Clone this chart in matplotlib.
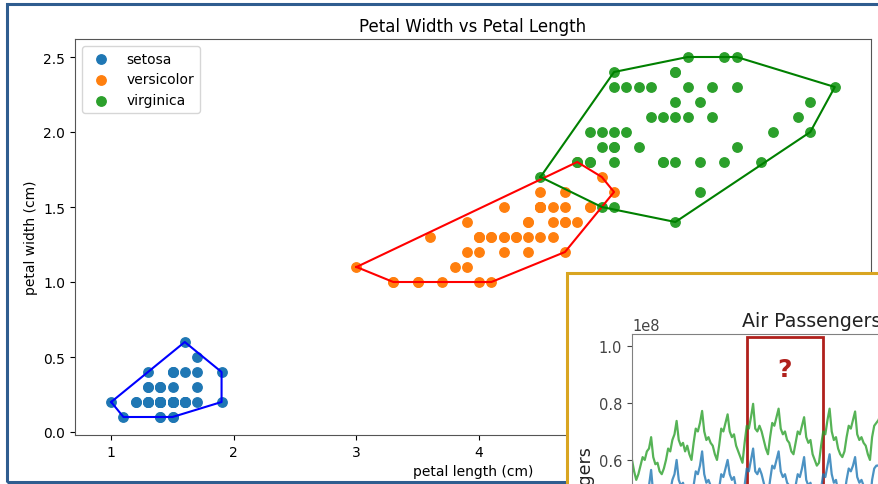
import numpy as np
import matplotlib
matplotlib.use("Agg")
import matplotlib.pyplot as plt
from matplotlib.patches import Rectangle

# ---------------- Iris petal data ----------------
species = ["setosa", "versicolor", "virginica"]
setosa_len = [1.4,1.4,1.3,1.5,1.4,1.7,1.4,1.5,1.4,1.5,1.5,1.6,1.4,1.1,1.2,1.5,1.3,1.4,1.7,1.5,
              1.7,1.5,1.0,1.7,1.9,1.6,1.6,1.5,1.4,1.6,1.6,1.5,1.5,1.4,1.5,1.2,1.3,1.4,1.3,1.5,
              1.3,1.3,1.3,1.6,1.9,1.4,1.6,1.4,1.5,1.4]
setosa_wid = [0.2,0.2,0.2,0.2,0.2,0.4,0.3,0.2,0.2,0.1,0.2,0.2,0.1,0.1,0.2,0.4,0.4,0.3,0.3,0.3,
              0.2,0.4,0.2,0.5,0.2,0.2,0.4,0.2,0.2,0.2,0.2,0.4,0.1,0.2,0.2,0.2,0.2,0.1,0.2,0.2,
              0.3,0.3,0.2,0.6,0.4,0.3,0.2,0.2,0.2,0.2]
versi_len = [4.7,4.5,4.9,4.0,4.6,4.5,4.7,3.3,4.6,3.9,3.5,4.2,4.0,4.7,3.6,4.4,4.5,4.1,4.5,3.9,
             4.8,4.0,4.9,4.7,4.3,4.4,4.8,5.0,4.5,3.5,3.8,3.7,3.9,5.1,4.5,4.5,4.7,4.4,4.1,4.0,
             4.4,4.6,4.0,3.3,4.2,4.2,4.2,4.3,3.0,4.1]
versi_wid = [1.4,1.5,1.5,1.3,1.5,1.3,1.6,1.0,1.3,1.4,1.0,1.5,1.0,1.4,1.3,1.4,1.5,1.0,1.5,1.1,
             1.8,1.3,1.5,1.2,1.3,1.4,1.4,1.7,1.5,1.0,1.1,1.0,1.2,1.6,1.5,1.6,1.5,1.3,1.3,1.3,
             1.2,1.4,1.2,1.0,1.3,1.2,1.3,1.3,1.1,1.3]
virg_len = [6.0,5.1,5.9,5.6,5.8,6.6,4.5,6.3,5.8,6.1,5.1,5.3,5.5,5.0,5.1,5.3,5.5,6.7,6.9,5.0,
            5.7,4.9,6.7,4.9,5.7,6.0,4.8,4.9,5.6,5.8,6.1,6.4,5.6,5.1,5.6,6.1,5.6,5.5,4.8,5.4,
            5.6,5.1,5.1,5.9,5.7,5.2,5.0,5.2,5.4,5.1]
virg_wid = [2.5,1.9,2.1,1.8,2.2,2.1,1.7,1.8,1.8,2.5,2.0,1.9,2.1,2.0,2.4,2.3,1.8,2.2,2.3,1.5,
            2.3,2.0,2.0,1.8,2.1,1.8,1.8,1.8,2.1,1.6,1.9,2.0,2.2,1.5,1.4,2.3,2.4,1.8,1.8,2.1,
            2.4,2.3,1.9,2.3,2.5,2.3,1.9,2.0,2.3,1.8]
hull_colors = ["blue", "red", "green"]

# ---------------- Inset (Air Passengers) data, in units of 1e8 ----------------
months = list(range(0, 121))
green_vals = [0.60,0.56,0.53,0.55,0.58,0.61,0.60,0.63,0.64,0.68,
              0.61,0.585,0.59,0.56,0.55,0.57,0.60,0.64,0.63,0.67,0.69,0.737,
              0.67,0.65,0.66,0.63,0.65,0.62,0.60,0.66,0.71,0.70,0.73,0.772,
              0.70,0.67,0.68,0.66,0.65,0.62,0.60,0.65,0.71,0.70,0.73,0.76,
              0.70,0.68,0.69,0.65,0.63,0.61,0.59,0.66,0.72,0.71,0.75,0.797,
              0.71,0.70,0.72,0.70,0.67,0.64,0.62,0.68,0.73,0.72,0.75,0.78,
              0.71,0.69,0.70,0.67,0.66,0.63,0.62,0.66,0.70,0.69,0.72,0.75,
              0.68,0.66,0.67,0.62,0.60,0.58,0.59,0.65,0.70,0.69,0.74,0.78,
              0.70,0.67,0.68,0.64,0.62,0.61,0.63,0.68,0.72,0.71,0.74,0.77,
              0.69,0.67,0.68,0.66,0.65,0.62,0.60,0.68,0.72,0.73,0.74,0.76,0.70,0.68,0.69]
blue_vals = [0.47,0.43,0.40,0.42,0.45,0.48,0.47,0.50,0.51,0.565,
             0.48,0.45,0.46,0.42,0.41,0.43,0.46,0.50,0.49,0.53,0.55,0.60,
             0.53,0.51,0.52,0.49,0.50,0.47,0.45,0.51,0.56,0.55,0.58,0.63,
             0.55,0.52,0.53,0.51,0.50,0.47,0.45,0.50,0.55,0.54,0.57,0.60,
             0.55,0.53,0.54,0.50,0.48,0.46,0.44,0.51,0.57,0.56,0.60,0.64,
             0.56,0.55,0.57,0.55,0.52,0.49,0.47,0.53,0.58,0.57,0.60,0.63,
             0.56,0.54,0.55,0.52,0.51,0.48,0.47,0.51,0.55,0.54,0.57,0.61,
             0.53,0.51,0.52,0.47,0.45,0.43,0.44,0.50,0.55,0.54,0.58,0.62,
             0.55,0.52,0.53,0.49,0.47,0.46,0.48,0.53,0.57,0.56,0.58,0.61,
             0.54,0.52,0.53,0.51,0.50,0.47,0.45,0.53,0.57,0.58,0.58,0.60,0.55,0.53,0.54]
highlight_start, highlight_end = 54, 90


def convex_hull(xs, ys):
    pts = sorted(set(zip(xs, ys)))
    def cross(o, a, b):
        return (a[0]-o[0])*(b[1]-o[1]) - (a[1]-o[1])*(b[0]-o[0])
    lower = []
    for p in pts:
        while len(lower) >= 2 and cross(lower[-2], lower[-1], p) <= 1e-12:
            lower.pop()
        lower.append(p)
    upper = []
    for p in reversed(pts):
        while len(upper) >= 2 and cross(upper[-2], upper[-1], p) <= 1e-12:
            upper.pop()
        upper.append(p)
    hull = lower[:-1] + upper[:-1]
    hull.append(hull[0])
    return [p[0] for p in hull], [p[1] for p in hull]


W, H = 879, 485
fig = plt.figure(figsize=(W/100, H/100), dpi=100)
fig.patch.set_facecolor("white")

def fx(px):
    return px / W

def fy(py):
    return 1 - py / H

# outer blue frame
fig.patches.append(Rectangle((fx(7), fy(483)), 1.2, fy(5) - fy(483), transform=fig.transFigure,
                             fill=False, edgecolor="#2f5d8f", linewidth=2.2, zorder=2))

# ---------------- main iris axes ----------------
ax = fig.add_axes([fx(75), fy(436), fx(871) - fx(75), fy(40) - fy(436)])
ax.set_zorder(3)
data = [(setosa_len, setosa_wid), (versi_len, versi_wid), (virg_len, virg_wid)]
for name, (xl, yl) in zip(species, data):
    ax.scatter(xl, yl, label=name, s=46)
for (xl, yl), hc in zip(data, hull_colors):
    hx, hy = convex_hull(xl, yl)
    ax.plot(hx, hy, color=hc, linewidth=1.5)
ax.set_title("Petal Width vs Petal Length", fontsize=12)
ax.set_xlabel("petal length (cm)", fontsize=10)
ax.set_ylabel("petal width (cm)", fontsize=10)
ax.legend(loc="upper left", fontsize=10)
ax.set_xticks([1, 2, 3, 4, 5, 6, 7])
ax.set_yticks([0.0, 0.5, 1.0, 1.5, 2.0, 2.5])
for s in ax.spines.values():
    s.set_color("#555555")

# ---------------- inset frame ----------------
fig.patches.append(Rectangle((fx(567), fy(600)), 1.0, fy(274) - fy(600), transform=fig.transFigure,
                             facecolor="white", edgecolor="#d9a521", linewidth=2.2, zorder=5))

# ---------------- inset Air Passengers axes ----------------
ax2 = fig.add_axes([fx(632), fy(600), fx(1000) - fx(632), fy(335) - fy(600)])
ax2.set_zorder(6)
ax2.patch.set_alpha(0)
g = np.array(green_vals) * 1e8
b = np.array(blue_vals) * 1e8
ax2.plot(months, g, color="#2ca02c", alpha=0.8, linewidth=1.6)
ax2.plot(months, b, color="#1f77b4", alpha=0.8, linewidth=1.6)
ax2.set_xlim(0, 173.2)
ax2.set_ylim(0.112e8, 1.042e8)
ax2.set_yticks([0.6e8, 0.8e8, 1.0e8])
ax2.set_xticks([])
ax2.tick_params(axis="y", labelsize=10.5, colors="#444444")
ax2.yaxis.get_offset_text().set_fontsize(10.5)
for s in ax2.spines.values():
    s.set_color("#808080")
ax2.add_patch(Rectangle((highlight_start, 0), highlight_end - highlight_start, 1.031e8,
                        fill=False, edgecolor="#b0201c", linewidth=2))
ax2.text((highlight_start + highlight_end) / 2, 0.92e8, "?", color="#b0201c", fontsize=18,
         fontweight="bold", ha="center", va="center")

fig.text(fx(742), fy(327), "Air Passengers", fontsize=13.7, color="#222222",
         ha="left", va="baseline", zorder=7)
fig.text(fx(584), fy(445), "Passengers", fontsize=12.5, rotation=90, color="#222222",
         ha="center", va="top", zorder=7)

fig.savefig("out.png", dpi=100)
